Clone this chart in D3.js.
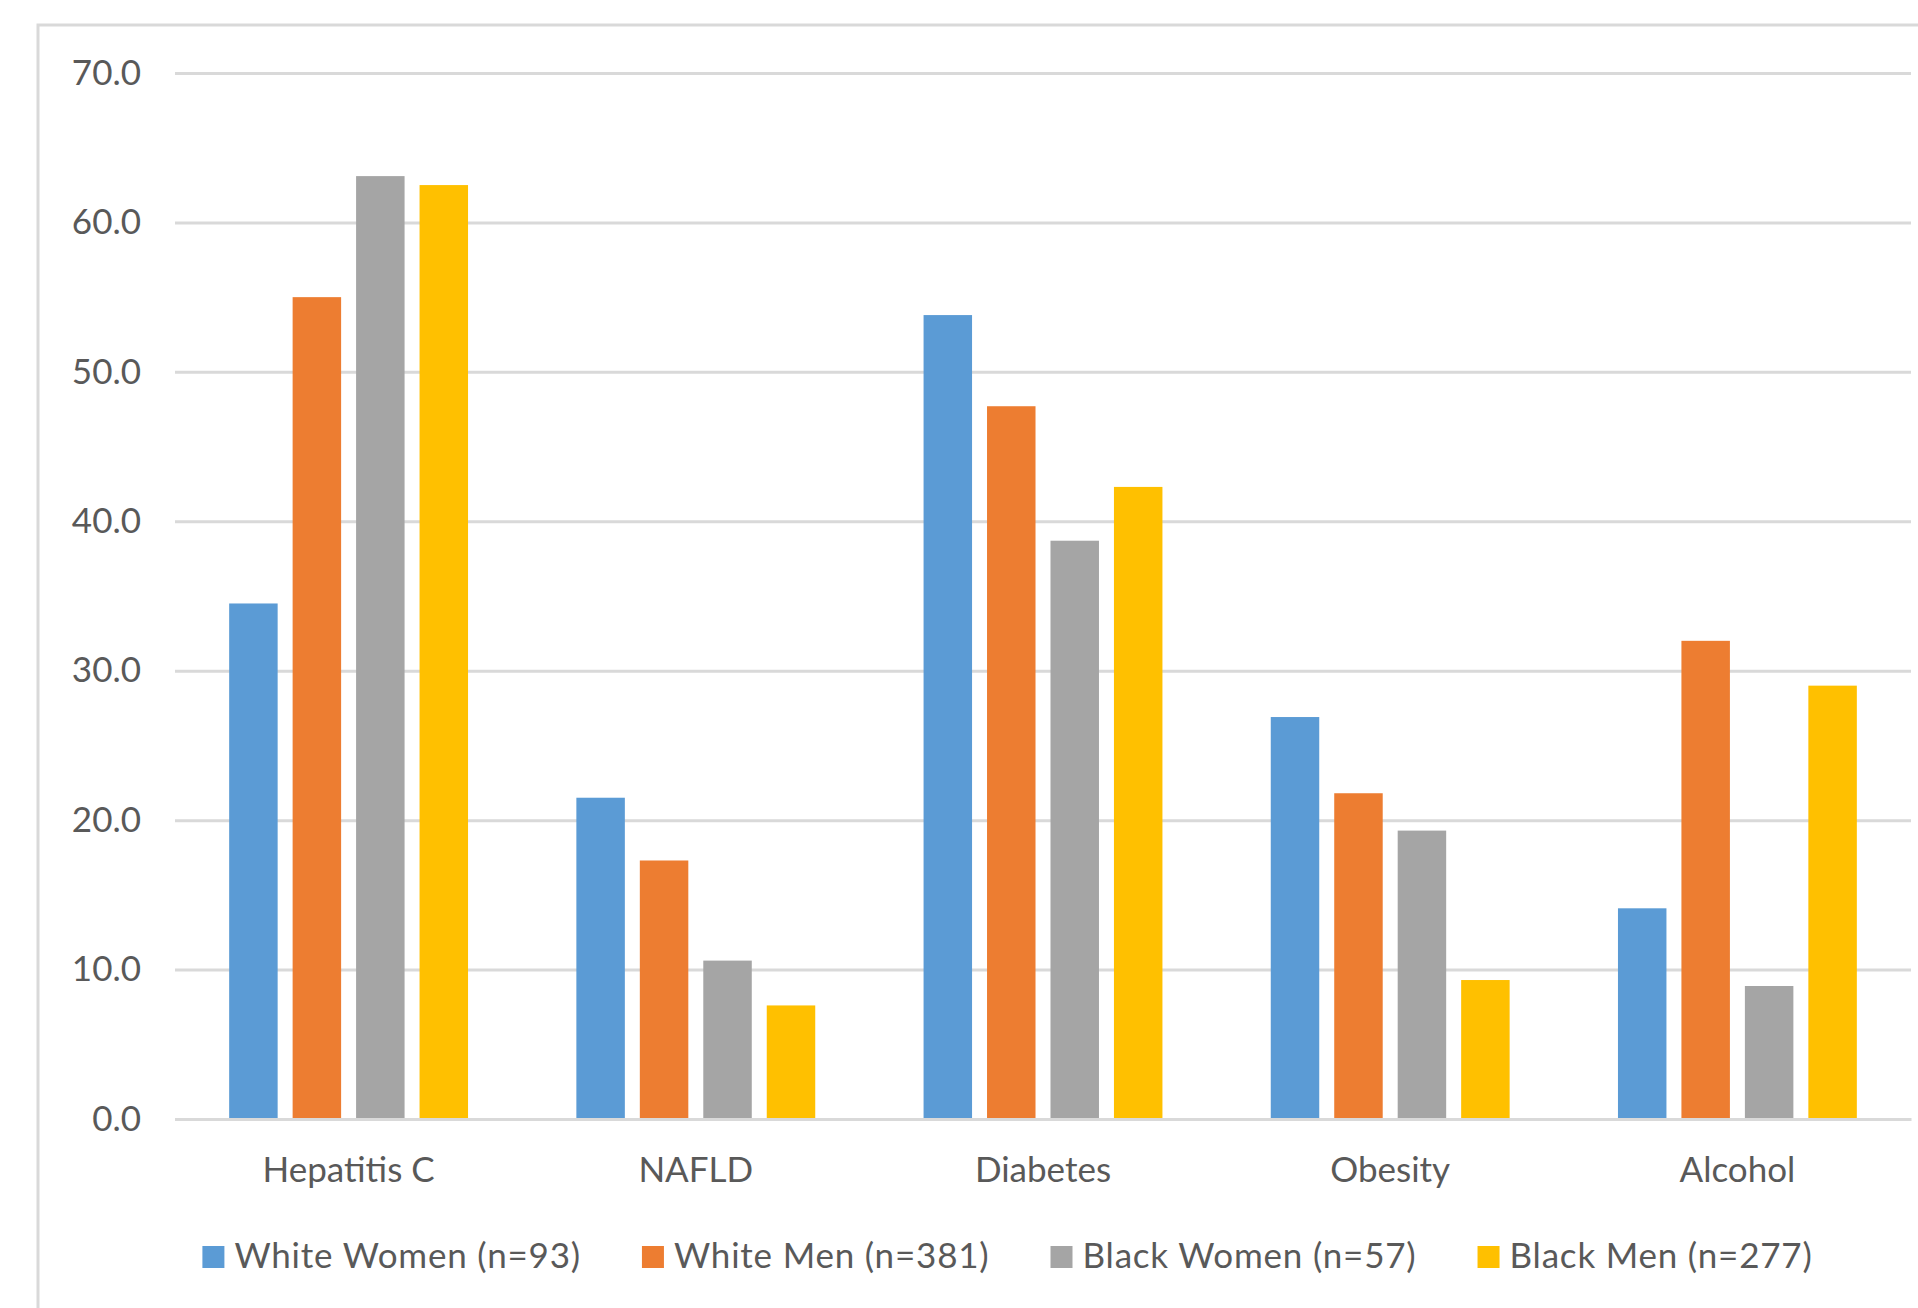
<!DOCTYPE html>
<html>
<head>
<meta charset="utf-8">
<script src="https://cdn.jsdelivr.net/npm/d3@7"></script>
<style>
  html, body { margin: 0; padding: 0; background: #fff; }
  svg { display: block; }
  text { font-family: Lato, "Open Sans", sans-serif; fill: #595959; }
</style>
</head>
<body>
<svg id="chart" width="1918" height="1308"></svg>
<script>
const categories = ["Hepatitis C", "NAFLD", "Diabetes", "Obesity", "Alcohol"];
const seriesNames = ["White Women (n=93)", "White Men (n=381)", "Black Women (n=57)", "Black Men (n=277)"];
const whiteWomen = [34.5, 21.5, 53.8, 26.9, 14.1];
const whiteMen   = [55.0, 17.3, 47.7, 21.8, 32.0];
const blackWomen = [63.1, 10.6, 38.7, 19.3, 8.9];
const blackMen   = [62.5, 7.6, 42.3, 9.3, 29.0];
const yTicks = [0, 10, 20, 30, 40, 50, 60, 70];
const colors = ["#5B9BD5", "#ED7D31", "#A5A5A5", "#FFC000"];

(function () {
const seriesValues = [whiteWomen, whiteMen, blackWomen, blackMen];
const table = categories.map((c, i) => ({
  category: c,
  values: seriesNames.map((s, j) => ({ series: s, idx: j, value: seriesValues[j][i] }))
}));

const svg = d3.select("#chart");
const fontSize = 35;

// chart border
svg.append("rect")
  .attr("x", 38).attr("y", 25)
  .attr("width", 1918).attr("height", 1400)
  .attr("fill", "none").attr("stroke", "#d9d9d9").attr("stroke-width", 3);

const pLeft = 175, pRight = 1911, pTop = 73, pBottom = 1119;

const x0 = d3.scaleBand().domain(categories).range([pLeft, pRight])
  .paddingInner(0.312).paddingOuter(0.156);
const x1 = d3.scaleBand().domain(d3.range(seriesNames.length)).range([0, x0.bandwidth()])
  .paddingInner(0.236).paddingOuter(0);
const y = d3.scaleLinear().domain([0, 70]).range([pBottom, pTop]);

// gridlines + y tick labels
const yAxis = svg.append("g")
  .attr("transform", `translate(${pLeft},0)`)
  .call(d3.axisLeft(y).tickValues(yTicks).tickFormat(d3.format(".1f"))
    .tickSizeInner(-(pRight - pLeft)).tickSizeOuter(0).tickPadding(34));
yAxis.select(".domain").remove();
yAxis.selectAll(".tick line").attr("stroke", "#d9d9d9").attr("stroke-width", 3);
yAxis.selectAll(".tick text").attr("font-size", fontSize).attr("fill", "#595959")
  .style("font-family", "Lato, sans-serif");

// bars
const groups = svg.append("g").selectAll("g").data(table).join("g")
  .attr("transform", d => `translate(${x0(d.category)},0)`);
groups.selectAll("rect").data(d => d.values).join("rect")
  .attr("x", d => x1(d.idx))
  .attr("y", d => y(d.value))
  .attr("width", x1.bandwidth())
  .attr("height", d => y(0) - y(d.value))
  .attr("fill", d => colors[d.idx]);

// x axis
const xAxis = svg.append("g")
  .attr("transform", `translate(0,${pBottom})`)
  .call(d3.axisBottom(x0).tickSize(0).tickPadding(38));
xAxis.select(".domain").attr("stroke", "#d9d9d9").attr("stroke-width", 3);
xAxis.selectAll(".tick text").attr("font-size", fontSize).attr("fill", "#595959")
  .style("font-family", "Lato, sans-serif");

// legend
const legend = svg.append("g");
const items = legend.selectAll("g").data(seriesNames).join("g");
items.append("rect").attr("width", 22).attr("height", 22).attr("y", 1246)
  .attr("fill", (d, i) => colors[i]);
items.append("text").attr("x", 32).attr("y", 1268).attr("font-size", fontSize)
  .attr("letter-spacing", "0.8px")
  .text(d => d);
const gap = 61;
const widths = [];
items.each(function () { widths.push(32 + this.querySelector("text").getComputedTextLength()); });
const total = d3.sum(widths) + gap * (widths.length - 1);
let cx = 1007.5 - total / 2;
items.each(function (d, i) {
  d3.select(this).attr("transform", `translate(${cx},0)`);
  cx += widths[i] + gap;
});
})();
</script>
</body>
</html>
